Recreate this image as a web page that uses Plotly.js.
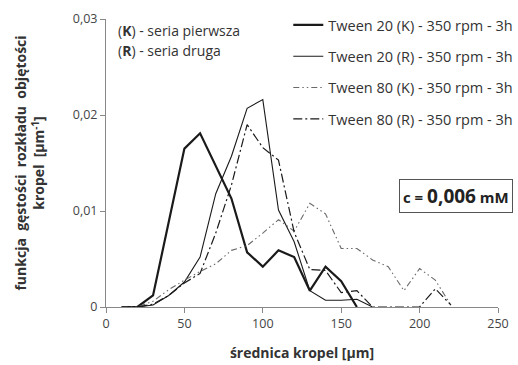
<!DOCTYPE html>
<html>
<head>
<meta charset="utf-8">
<script src="https://cdn.plot.ly/plotly-3.0.1.min.js"></script>
<style>html,body{margin:0;padding:0;background:#fff}#chart{width:518px;height:365px}</style>
</head>
<body>
<div id="chart"></div>
<script>
// Data
const diameters = [10, 20, 30, 40, 50, 60, 70, 80, 90, 100, 110, 120, 130, 140, 150, 160, 170, 180, 190, 200, 210, 220];
const t20K = [0, 0, 0.0012, 0.0088, 0.0165, 0.0181, 0.0147, 0.0113, 0.0057, 0.0042, 0.0059, 0.0052, 0.0017, 0.0042, 0.0027, 0];
const t20R = [0, 0, 0.0002, 0.0012, 0.0026, 0.0052, 0.0118, 0.0157, 0.0207, 0.0216, 0.0101, 0.0068, 0.0017, 0.0007, 0.0007, 0.0008, 0];
const t80K = [0, 0, 0.0006, 0.0018, 0.0028, 0.0037, 0.0045, 0.0059, 0.0064, 0.0077, 0.0091, 0.0079, 0.0108, 0.0097, 0.0061, 0.0061, 0.0049, 0.0042, 0.0017, 0.0040, 0.0028, 0.0002];
const t80R = [0, 0, 0.0003, 0.0012, 0.0025, 0.0035, 0.0077, 0.0127, 0.0190, 0.0166, 0.0153, 0.0078, 0.0039, 0.0038, 0.0015, 0.0017, 0, 0, 0, 0, 0.0019, 0.0002];
const seriesNames = ["Tween 20 (K) - 350 rpm - 3h", "Tween 20 (R) - 350 rpm - 3h", "Tween 80 (K) - 350 rpm - 3h", "Tween 80 (R) - 350 rpm - 3h"];
const xTicks = [0, 50, 100, 150, 200, 250];
const yTickVals = [0, 0.01, 0.02, 0.03];
const yTickText = ["0", "0,01", "0,02", "0,03"];

const FONT = "Open Sans, sans-serif";
const styles = [
  {color: "#1a1a1a", width: 2.2, dash: "solid"},
  {color: "#1a1a1a", width: 1.1, dash: "solid"},
  {color: "#6a6a6a", width: 1.1, dash: "6px,3px,1.5px,3px,1.5px,3px"},
  {color: "#1a1a1a", width: 1.2, dash: "9px,3px,2px,3px"}
];
const ys = [t20K, t20R, t80K, t80R];
const traces = ys.map((y, i) => ({
  type: "scatter", mode: "lines",
  x: diameters.slice(0, y.length), y: y,
  name: seriesNames[i], legendgroup: "g" + i,
  line: styles[i]
}));

const layout = {
  width: 518, height: 365,
  margin: {l: 106, r: 20, t: 19, b: 58, autoexpand: false},
  paper_bgcolor: "#fff", plot_bgcolor: "#fff",
  font: {family: FONT, size: 12, color: "#333"},
  showlegend: true,
  legend: {x: 0.465, y: 1.035, xanchor: "left", yanchor: "top", bgcolor: "rgba(0,0,0,0)",
           font: {family: FONT, size: 14.5, color: "#333"}, tracegroupgap: 9.5, itemwidth: 30},
  xaxis: {range: [0, 250], tickvals: xTicks, ticks: "outside", ticklen: 5, tickcolor: "#888",
          showline: true, linecolor: "#888", linewidth: 1, showgrid: false, zeroline: false,
          tickfont: {family: FONT, size: 12.5, color: "#444"},
          title: {text: "<b>średnica kropel [µm]</b>", font: {family: FONT, size: 14, color: "#333"}, standoff: 17}},
  yaxis: {range: [0, 0.03], tickvals: yTickVals, ticktext: yTickText, ticks: "outside", ticklen: 5, tickcolor: "#888",
          showline: true, linecolor: "#888", linewidth: 1, showgrid: false, zeroline: false,
          tickfont: {family: FONT, size: 12.5, color: "#444"},
          title: {text: "<b>funkcja  gęstości  rozkładu  objętości<br>kropel  [µm<sup>-1</sup>]</b>", font: {family: FONT, size: 14, color: "#333"}, standoff: 24}},
  annotations: [
    {xref: "paper", yref: "paper", x: 0.025, y: 0.96, xanchor: "left", yanchor: "middle", showarrow: false,
     text: "(<b>K</b>) - seria pierwsza", font: {family: FONT, size: 14, color: "#333"}},
    {xref: "paper", yref: "paper", x: 0.025, y: 0.89, xanchor: "left", yanchor: "middle", showarrow: false,
     text: "(<b>R</b>) - seria druga", font: {family: FONT, size: 14, color: "#333"}},
    {xref: "paper", yref: "paper", x: 1.038, y: 0.387, xanchor: "right", yanchor: "middle", showarrow: false,
     text: "<b>c = <span style='font-size:19px'>0,006</span> mM</b>", font: {family: FONT, size: 15, color: "#222"},
     bordercolor: "#555", borderwidth: 1, borderpad: 3, bgcolor: "#fff"}
  ]
};

Plotly.newPlot("chart", traces, layout, {staticPlot: true, displayModeBar: false});
</script>
</body>
</html>
